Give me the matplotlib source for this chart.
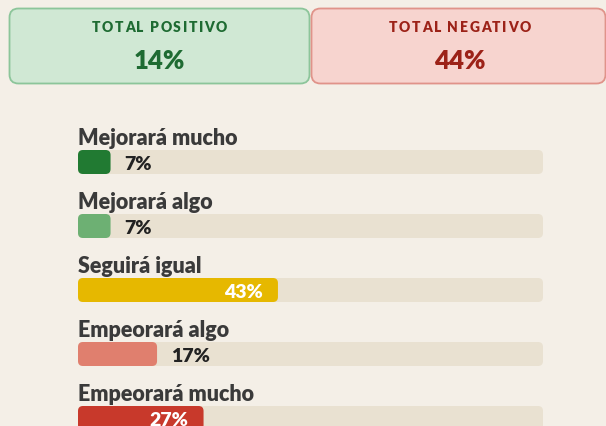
import matplotlib
matplotlib.use("Agg")
import matplotlib.pyplot as plt
from matplotlib.patches import FancyBboxPatch

# data
categories = ["Mejorará mucho", "Mejorará algo", "Seguirá igual",
              "Empeorará algo", "Empeorará mucho"]
values = [7, 7, 43, 17, 27]
bar_colors = ["#217a32", "#6db073", "#e6b800", "#e07f6e", "#c8392b"]
positive = ["Mejorará mucho", "Mejorará algo"]
negative = ["Empeorará algo", "Empeorará mucho"]

BG = "#f4efe7"
TRACK = "#e9e1d1"
W, H = 606, 427

plt.rcParams["font.family"] = ["Lato", "DejaVu Sans"]

fig = plt.figure(figsize=(W / 100, H / 100), dpi=100)
fig.patch.set_facecolor(BG)

# full-figure axes in pixel units for the summary cards
bg = fig.add_axes([0, 0, 1, 1])
bg.set_xlim(0, W)
bg.set_ylim(H, 0)
bg.axis("off")

renderer = fig.canvas.get_renderer()


def spaced_text(ax, xc, y, s, spacing, **kw):
    # matplotlib has no letter-spacing, so place the characters one by one
    widths = []
    for ch in s:
        t = ax.text(0, 0, ch, **kw)
        widths.append(t.get_window_extent(renderer).width)
        t.remove()
    total = sum(widths) + spacing * (len(s) - 1)
    x = xc - total / 2
    for ch, w in zip(s, widths):
        ax.text(x, y, ch, ha="left", va="baseline", **kw)
        x += w + spacing


tot_pos = sum(v for c, v in zip(categories, values) if c in positive)
tot_neg = sum(v for c, v in zip(categories, values) if c in negative)

cards = [
    ("TOTAL POSITIVO", tot_pos, "#d0e8d4", "#8cc59a", "#1e6b32", 9.5, 300),
    ("TOTAL NEGATIVO", tot_neg, "#f7d4cf", "#e0938a", "#9c2218", 311.5, 294),
]
for title, val, fc, ec, tc, x0, w in cards:
    box = FancyBboxPatch((x0, 9.5), w, 75,
                         boxstyle="round,pad=0,rounding_size=9",
                         fc=fc, ec=ec, lw=1.3)
    bg.add_patch(box)
    xc = x0 + 150 if w == 300 else 460
    spaced_text(bg, xc, 32.5, title, 1.6, fontsize=10,
                fontweight="heavy", color=tc)
    bg.text(xc, 69, f"{val}%", ha="center", va="baseline",
            fontsize=18.5, fontweight="heavy", color=tc)

# bar axes: x in percent, y in pixels
left, right = 78, 543
ax = fig.add_axes([left / W, 0, (right - left) / W, 1])
ax.set_xlim(0, 100)
ax.set_ylim(H, 0)
ax.axis("off")
px = (right - left) / 100.0  # pixels per percent
r = 5 / px

for i, (cat, val, col) in enumerate(zip(categories, values, bar_colors)):
    top = 151 + 64 * i
    ax.text(0, top - 6, cat, ha="left", va="baseline", fontsize=15.5,
            fontweight="heavy", color="#3a3a3a", clip_on=False)
    ax.add_patch(FancyBboxPatch((0, top), 100, 24,
                                boxstyle=f"round,pad=0,rounding_size={r}",
                                mutation_aspect=px, fc=TRACK, ec="none",
                                clip_on=False))
    ax.add_patch(FancyBboxPatch((0, top), val, 24,
                                boxstyle=f"round,pad=0,rounding_size={r}",
                                mutation_aspect=px, fc=col, ec="none",
                                clip_on=False))
    if val >= 20:
        ax.text(val - 15 / px, top + 19, f"{val}%", ha="right",
                va="baseline", fontsize=14, fontweight="heavy",
                color="white", clip_on=False)
    else:
        ax.text(val + 14 / px, top + 19, f"{val}%", ha="left",
                va="baseline", fontsize=14, fontweight="heavy",
                color="#222222", clip_on=False)

fig.savefig("out.png", dpi=100, facecolor=BG)
